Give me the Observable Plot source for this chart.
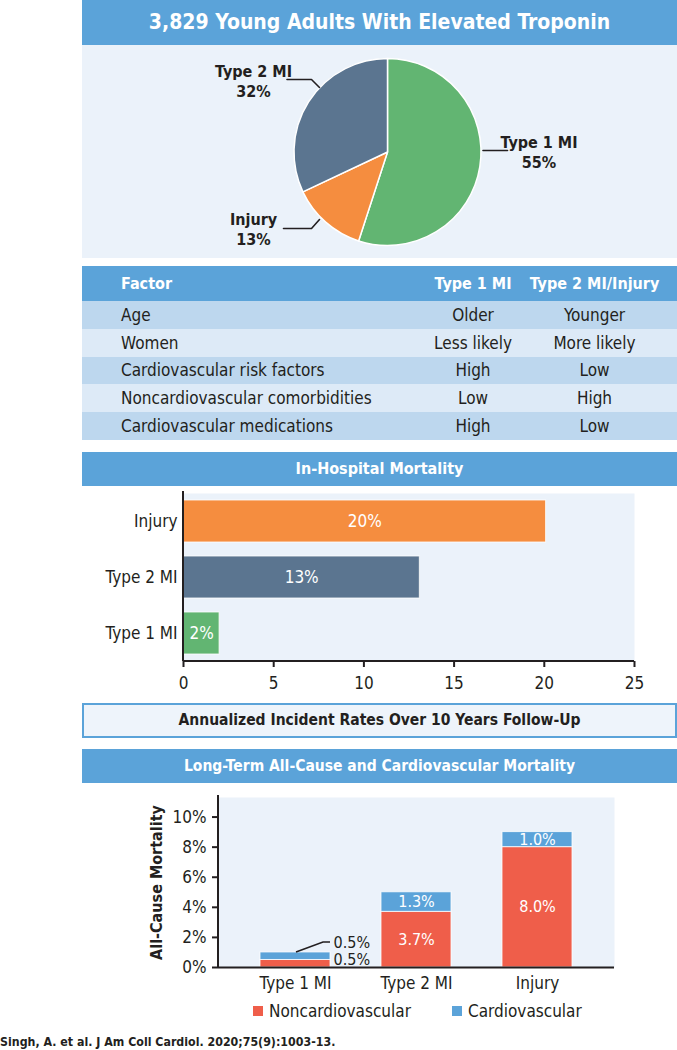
<!DOCTYPE html>
<html>
<head>
<meta charset="utf-8">
<script src="https://cdn.jsdelivr.net/npm/d3@7"></script>
<script src="https://cdn.jsdelivr.net/npm/@observablehq/plot@0.6"></script>
<style>
  :root { --f: "Liberation Sans Narrow", "DejaVu Sans Condensed", "Roboto Condensed", sans-serif; }
  html, body { margin: 0; padding: 0; background: #fff; }
  body { width: 677px; height: 1050px; position: relative; overflow: hidden; font-family: var(--f); color: #231F20; }
  .abs { position: absolute; }
  .hdr { background: #5BA3D9; color: #fff; font-weight: bold; text-align: center; }
  table { border-collapse: collapse; table-layout: fixed; font-family: var(--f); }
  td, th { padding: 0; white-space: nowrap; }
  .legend span.sw { display: inline-block; width: 10px; height: 10px; vertical-align: middle; }
</style>
</head>
<body>
<div id="title" class="abs hdr" style="left:82px;top:0;width:595px;height:45px;line-height:45px;font-size:21px;"></div>
<div id="pie" class="abs" style="left:82px;top:45px;width:595px;height:213px;background:#EBF2FA;"></div>
<div id="tableWrap" class="abs" style="left:82px;top:266px;width:595px;"></div>
<div id="hospHdr" class="abs hdr" style="left:82px;top:452px;width:595px;height:34px;line-height:34px;font-size:16px;"></div>
<div id="hosp" class="abs" style="left:82px;top:486px;width:595px;"></div>
<div id="annual" class="abs" style="left:82px;top:703px;width:595px;height:35px;box-sizing:border-box;border:2px solid #5BA3D9;background:#EEF4FB;text-align:center;line-height:31px;font-weight:bold;font-size:15.5px;"></div>
<div id="ltHdr" class="abs hdr" style="left:82px;top:749px;width:595px;height:34px;line-height:34px;font-size:15.5px;"></div>
<div id="lt" class="abs" style="left:82px;top:783px;width:595px;"></div>
<div id="legend" class="abs legend" style="left:0;top:998px;width:677px;height:24px;font-size:17px;"></div>
<div id="cite" class="abs" style="left:0;top:1033px;font-size:12.3px;font-weight:bold;line-height:18px;"></div>
<script>
// ---------------- data ----------------
const titleText = "3,829 Young Adults With Elevated Troponin";
const pieCategories = ["Type 1 MI", "Injury", "Type 2 MI"];
const pieShares = [55, 13, 32];

const tableColumns = ["Factor", "Type 1 MI", "Type 2 MI/Injury"];
const factors = ["Age", "Women", "Cardiovascular risk factors", "Noncardiovascular comorbidities", "Cardiovascular medications"];
const type1Values = ["Older", "Less likely", "High", "Low", "High"];
const type2InjuryValues = ["Younger", "More likely", "Low", "High", "Low"];

const hospTitle = "In-Hospital Mortality";
const hospGroups = ["Injury", "Type 2 MI", "Type 1 MI"];
const hospMortality = [20.1, 13.1, 2.0];
const hospLabels = ["20%", "13%", "2%"];
const hospTicks = [0, 5, 10, 15, 20, 25];

const annualText = "Annualized Incident Rates Over 10 Years Follow-Up";
const ltTitle = "Long-Term All-Cause and Cardiovascular Mortality";
const ltGroups = ["Type 1 MI", "Type 2 MI", "Injury"];
const ltCauses = ["Noncardiovascular", "Cardiovascular"];
const ltNoncardio = [0.5, 3.7, 8.0];
const ltCardio = [0.5, 1.3, 1.0];
const ltTicks = [0, 2, 4, 6, 8, 10];
const ltYTitle = "All-Cause Mortality";

const citation = "Singh, A. et al. J Am Coll Cardiol. 2020;75(9):1003-13.";

// ---------------- styles ----------------
const FONT = getComputedStyle(document.body).fontFamily;
const DARK = "#231F20";
const PANEL = "#EBF2FA";
const categoryColors = ["#62B572", "#F58D3F", "#5B7590"];
const causeColors = ["#EF5E4A", "#5BA3D9"];
const rowColors = ["#BDD7EE", "#DDEAF7"];
const baseStyle = {fontFamily: FONT, fontSize: "17px", color: DARK, background: "transparent", overflow: "visible"};

document.getElementById("title").textContent = titleText;
document.getElementById("hospHdr").textContent = hospTitle;
document.getElementById("annual").textContent = annualText;
document.getElementById("ltHdr").textContent = ltTitle;
document.getElementById("cite").textContent = citation;

// ---------------- pie ----------------
const pieData = pieCategories.map((c, i) => ({category: c, share: pieShares[i]}));
const PIE = {w: 595, h: 213, cx: 305.5, cy: 107, r: 93.5};
// label centres and leader lines, in pixel offsets from the pie centre (y down)
const pieLabelAt = {"Type 1 MI": [151, -1], "Injury": [-134.5, 76], "Type 2 MI": [-134.5, -72]};
const pieLeaderAt = {
  "Type 1 MI": [[95, -2], [119.5, -2]],
  "Injury": [[-104.5, 76], [-76.5, 76], [-68.5, 67]],
  "Type 2 MI": [[-101, -73], [-76.5, -73], [-68.5, -65]]
};
const u = v => v / PIE.r;
const leaderPts = pieCategories.flatMap(c => pieLeaderAt[c].map(([dx, dy]) => ({category: c, x: u(dx), y: -u(dy)})));

function pieSlices(index, scales) {
  const {x, y} = scales;
  const r = x(1) - x(0);
  const arcs = d3.pie().sort(null).value(d => d.share)(pieData);
  const arc = d3.arc().innerRadius(0).outerRadius(r);
  const g = d3.create("svg:g").attr("transform", `translate(${x(0)},${y(0)})`);
  g.selectAll("path").data(arcs).join("path")
    .attr("d", arc)
    .attr("fill", d => categoryColors[pieCategories.indexOf(d.data.category)])
    .attr("stroke", "#fff").attr("stroke-width", 1.5).attr("stroke-linejoin", "round");
  return g.node();
}

document.getElementById("pie").append(Plot.plot({
  width: PIE.w, height: PIE.h, margin: 0,
  style: baseStyle,
  x: {domain: [-PIE.cx / PIE.r, (PIE.w - PIE.cx) / PIE.r], axis: null},
  y: {domain: [-(PIE.h - PIE.cy) / PIE.r, PIE.cy / PIE.r], axis: null},
  marks: [
    pieSlices,
    Plot.line(leaderPts, {x: "x", y: "y", z: "category", stroke: DARK, strokeWidth: 1.6}),
    Plot.text(pieData, {
      x: d => u(pieLabelAt[d.category][0]), y: d => -u(pieLabelAt[d.category][1]),
      text: d => `${d.category}\n${d.share}%`, fontWeight: "bold", fontSize: 16, lineHeight: 1.25, fill: DARK
    })
  ]
}));

// ---------------- table ----------------
(function () {
  const t = d3.select("#tableWrap").append("table").style("width", "595px");
  const cg = t.append("colgroup");
  [336, 110, 133, 16].forEach(w => cg.append("col").style("width", w + "px"));
  const hr = t.append("tr").style("background", "#5BA3D9").style("color", "#fff").style("height", "35px");
  tableColumns.forEach((c, i) => hr.append("th").text(c)
    .style("text-align", i === 0 ? "left" : "center").style("padding-left", i === 0 ? "39px" : "0")
    .style("font-size", "16px").style("font-weight", "bold"));
  hr.append("th");
  factors.forEach((f, i) => {
    const tr = t.append("tr").style("background", rowColors[i % 2]).style("height", "27.8px");
    [f, type1Values[i], type2InjuryValues[i]].forEach((v, j) => tr.append("td").text(v)
      .style("text-align", j === 0 ? "left" : "center").style("padding-left", j === 0 ? "39px" : "0")
      .style("font-size", "17px"));
    tr.append("td");
  });
})();

// ---------------- in-hospital mortality ----------------
const hospData = hospGroups.map((g, i) => ({group: g, value: hospMortality[i], label: hospLabels[i]}));
const bottomLine = (extendLeft) => (index, scales, values, dims) => {
  const {width, height, marginLeft, marginRight, marginBottom} = dims;
  return d3.create("svg:line")
    .attr("x1", marginLeft - extendLeft).attr("x2", width - marginRight)
    .attr("y1", height - marginBottom).attr("y2", height - marginBottom)
    .attr("stroke", DARK).attr("stroke-width", 2).node();
};
const leftLine = (index, scales, values, dims) => {
  const {height, marginLeft, marginTop, marginBottom} = dims;
  return d3.create("svg:line")
    .attr("x1", marginLeft).attr("x2", marginLeft)
    .attr("y1", marginTop - 2).attr("y2", height - marginBottom)
    .attr("stroke", DARK).attr("stroke-width", 2).node();
};

document.getElementById("hosp").append(Plot.plot({
  width: 595, height: 214, marginTop: 7, marginBottom: 39, marginLeft: 101, marginRight: 43,
  style: baseStyle,
  x: {domain: [0, 25]},
  y: {domain: hospGroups, paddingInner: 0.25, paddingOuter: 0.125},
  color: {domain: pieCategories, range: categoryColors},
  marks: [
    Plot.frame({fill: PANEL, stroke: "none"}),
    Plot.barX(hospData, {x: "value", y: "group", fill: "group", stroke: "#fff", strokeOpacity: 0.8}),
    Plot.text(hospData, {x: d => d.value / 2, y: "group", text: "label", fill: "#fff", fontSize: 17}),
    leftLine,
    bottomLine(0),
    Plot.axisX(hospTicks, {tickSize: 6, tickPadding: 9, fontSize: 17, strokeWidth: 2, label: null, fill: DARK}),
    Plot.axisY({tickSize: 0, tickPadding: 6, fontSize: 17, label: null, fill: DARK})
  ]
}));

// ---------------- long-term mortality ----------------
const ltData = ltGroups.flatMap((g, i) => [
  {group: g, cause: ltCauses[0], value: ltNoncardio[i]},
  {group: g, cause: ltCauses[1], value: ltCardio[i]}
]);
const ltTotals = ltGroups.map((g, i) => ({group: g, nonc: ltNoncardio[i], card: ltCardio[i], total: ltNoncardio[i] + ltCardio[i]}));
const smallGroup = ltGroups[0];
const fmt = v => v.toFixed(1) + "%";

const smallLeader = (index, scales) => {
  const {x, y} = scales;
  const bw = x.bandwidth ? x.bandwidth() : 0;
  const cx = x(smallGroup) + bw / 2;
  const t = ltTotals.find(d => d.group === smallGroup);
  const y0 = y(t.total), y1 = y0 - 10;
  return d3.create("svg:path")
    .attr("d", `M${cx + 1},${y0}L${cx + 28},${y1}L${cx + 35},${y1}`)
    .attr("fill", "none").attr("stroke", DARK).attr("stroke-width", 1.6).node();
};

document.getElementById("lt").append(Plot.plot({
  width: 595, height: 217, marginTop: 14, marginBottom: 33, marginLeft: 136, marginRight: 63,
  style: baseStyle,
  x: {domain: ltGroups, paddingInner: 0.424, paddingOuter: 0.34},
  y: {domain: [0, 11.3]},
  color: {domain: ltCauses, range: causeColors},
  marks: [
    Plot.frame({fill: PANEL, stroke: "none"}),
    Plot.barY(ltData, Plot.stackY({x: "group", y: "value", fill: "cause", order: ltCauses, stroke: "#fff", strokeOpacity: 0.8})),
    Plot.text(ltData.filter(d => d.group !== smallGroup), Plot.stackY({x: "group", y: "value", z: "cause", order: ltCauses, text: d => fmt(d.value), fill: "#fff", fontSize: 16})),
    Plot.text(ltTotals.filter(d => d.group === smallGroup), {x: "group", y: "nonc", text: d => fmt(d.nonc), dx: 38, textAnchor: "start", fill: DARK, fontSize: 16}),
    Plot.text(ltTotals.filter(d => d.group === smallGroup), {x: "group", y: "total", text: d => fmt(d.card), dx: 38, dy: -10, textAnchor: "start", fill: DARK, fontSize: 16}),
    smallLeader,
    leftLine,
    Plot.ruleY([0], {stroke: DARK, strokeWidth: 2}),
    Plot.axisY(ltTicks, {tickSize: 6, tickPadding: 6, tickFormat: d => d + "%", fontSize: 17, strokeWidth: 2, label: null, fill: DARK}),
    Plot.axisX({tickSize: 0, tickPadding: 9, fontSize: 17, label: null, fill: DARK}),
    Plot.text([ltYTitle], {text: d => d, frameAnchor: "left", textAnchor: "middle", rotate: -90, dx: -61.5, fontWeight: "bold", fontSize: 16, fill: DARK})
  ]
}));

// ---------------- legend ----------------
(function () {
  const lg = d3.select("#legend");
  const pos = [253, 452];
  ltCauses.forEach((c, i) => {
    const item = lg.append("div").style("position", "absolute").style("left", pos[i] + "px").style("top", "0")
      .style("height", "24px").style("line-height", "24px").style("white-space", "nowrap");
    item.append("span").attr("class", "sw").style("background", causeColors[i]).style("margin-right", "6px");
    item.append("span").text(c).style("vertical-align", "middle");
  });
})();
</script>
</body>
</html>
